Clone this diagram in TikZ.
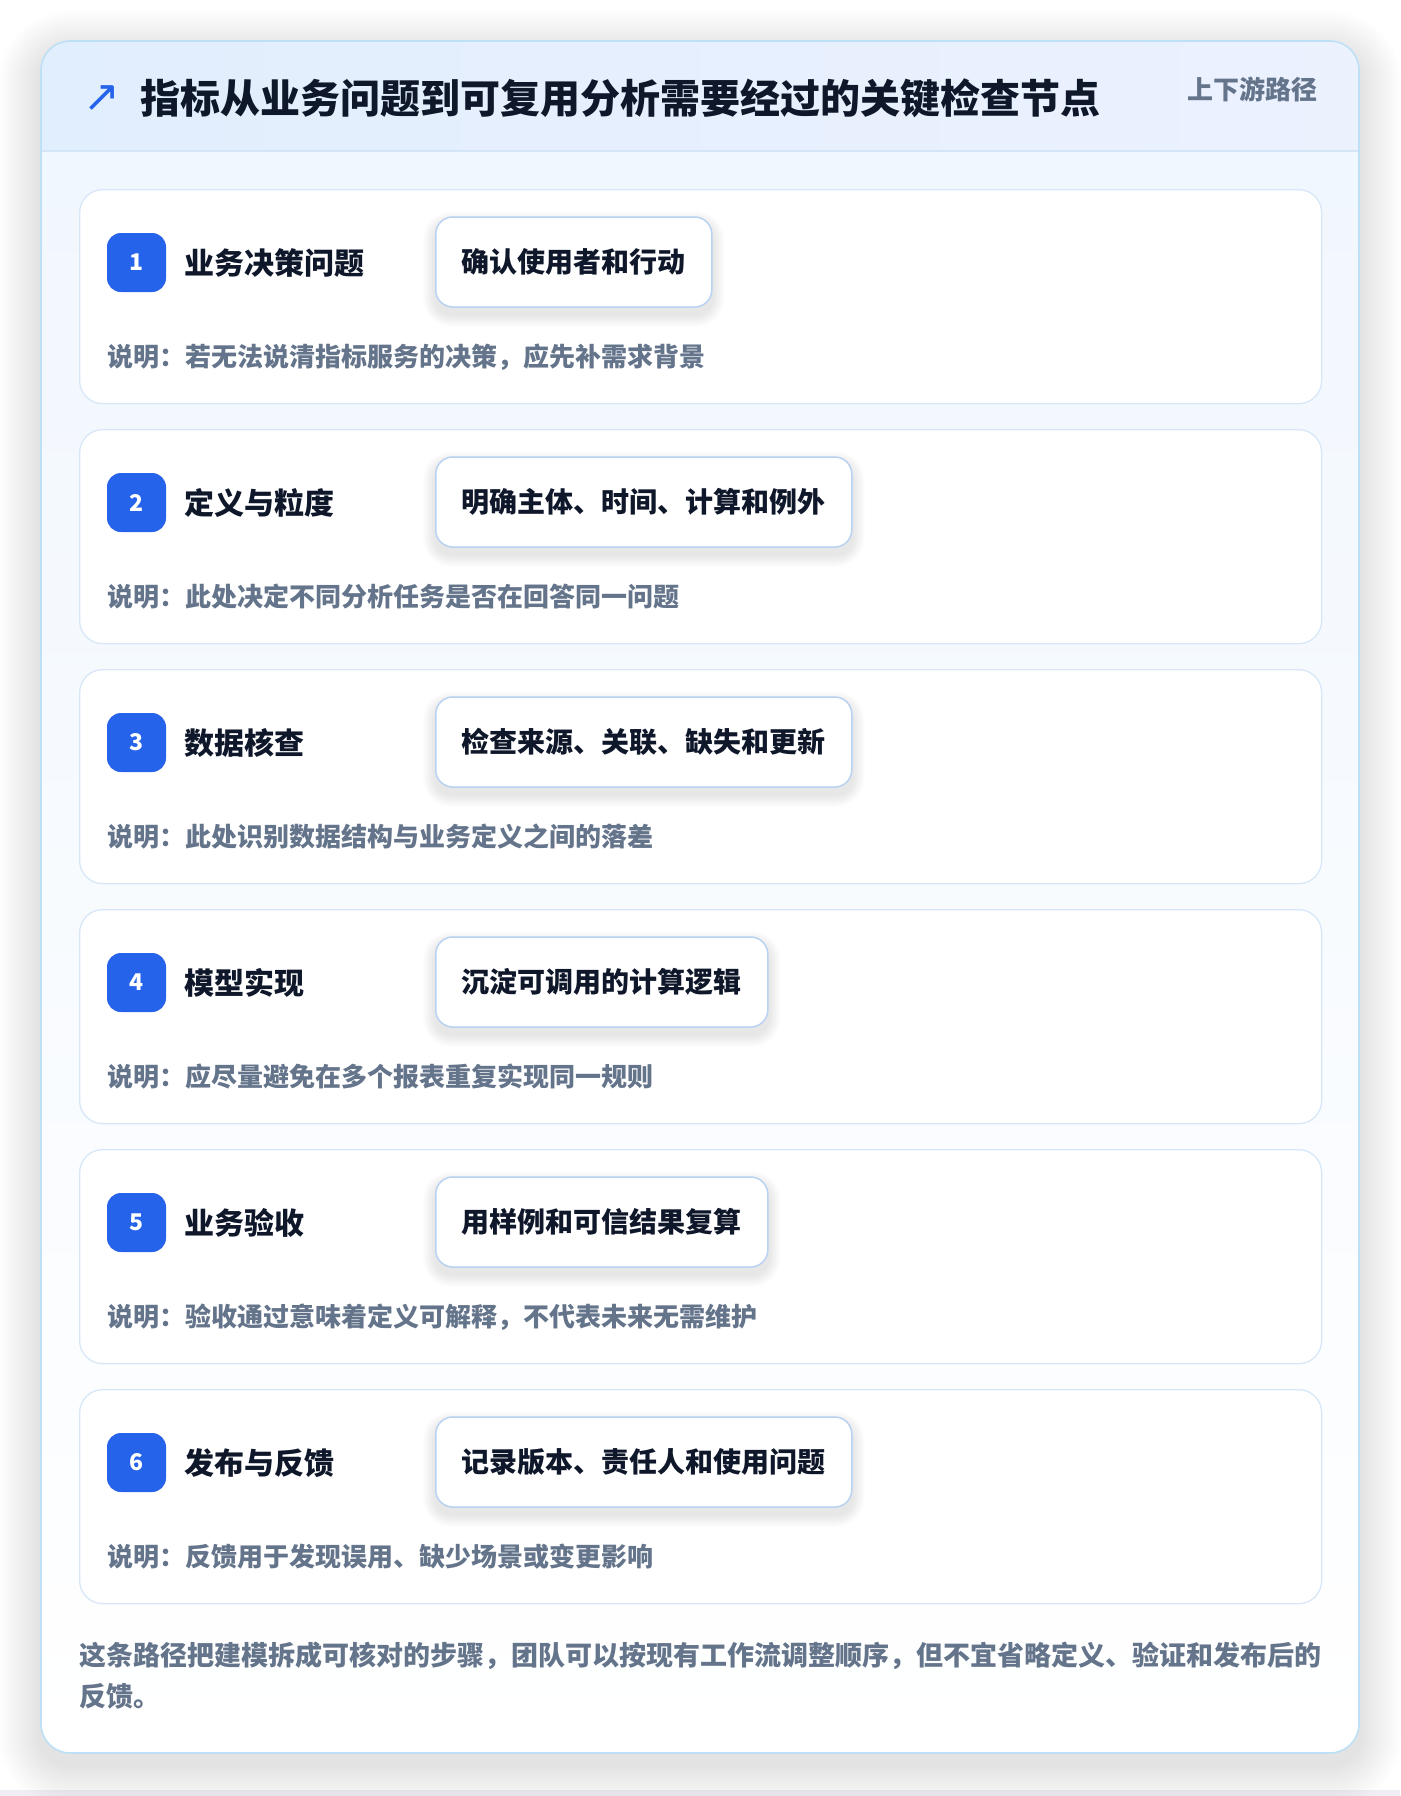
\documentclass[tikz,border=0pt]{standalone}
\usepackage{fontspec}
\setmainfont{Noto Sans CJK SC}
\newfontfamily\symfont{DejaVu Sans}
\definecolor{hdrL}{HTML}{E1EEFD}
\definecolor{hdrR}{HTML}{ECF1FE}
\definecolor{bodyT}{HTML}{F1F7FE}
\definecolor{outerborder}{HTML}{BEE0F6}
\definecolor{hdrline}{HTML}{D4E5F7}
\definecolor{cardborder}{HTML}{D8E7F8}
\definecolor{pillborder}{HTML}{B9D2F1}
\definecolor{badgeblue}{HTML}{2563EB}
\definecolor{ink}{HTML}{0F172A}
\definecolor{muted}{HTML}{64748B}
\definecolor{strip}{HTML}{EFEFF3}
\definecolor{shadowc}{HTML}{1E293B}
\newcommand\myfs[1]{\fontsize{#1}{#1}\selectfont}
\tikzset{
  stepcard/.style={draw=cardborder, line width=1.3pt, fill=white, rounded corners=23pt,
    minimum width=1242pt, minimum height=214pt, anchor=north west, inner sep=0pt},
  badge/.style={fill=badgeblue, rounded corners=14pt, minimum width=59pt, minimum height=59pt,
    inner sep=0pt, text=white, font=\bfseries\myfs{23}},
  steptitle/.style={anchor=west, inner sep=0pt, text=ink, font=\bfseries\myfs{30}},
  pill/.style={anchor=west, draw=pillborder, line width=1.5pt, fill=white, rounded corners=17pt,
    minimum height=90pt, inner xsep=26pt, inner ysep=0pt, text=ink, font=\bfseries\myfs{28}},
  desc/.style={anchor=west, inner sep=0pt, text=muted, font=\bfseries\myfs{26}},
  foot/.style={anchor=west, inner sep=0pt, text=muted, font=\bfseries\myfs{27}},
}
% soft layered shadow behind a node
\newcommand\softshadow[1]{%
  \foreach \k in {1,...,8}{%
    \fill[shadowc, opacity=0.010, rounded corners={17pt+\k*1.5pt}]
      ([xshift={-\k*1.5pt}, yshift={\k*1.5pt-7pt}]#1.north west) rectangle
      ([xshift={\k*1.5pt}, yshift={-\k*1.5pt-7pt}]#1.south east);
  }%
}
\newcommand\steprow[5]{%
  \node[stepcard] (card#1) at (79,#2) {};
  \node[badge] (badge#1) at (136.5,#2+73.5) {#1};
  \node[steptitle] (title#1) at (184,#2+74) {#3};
  \node[pill, opacity=0, text opacity=0] (pill#1) at (435,#2+73) {#4};
  \softshadow{pill#1}
  \node[pill] (pillb#1) at (pill#1.west) {#4};
  \node[desc] (desc#1) at (107,#2+168) {#5};
}
\begin{document}
\begin{tikzpicture}[x=1pt,y=-1pt]
\useasboundingbox (0,0) rectangle (1400,1796);
\fill[white] (0,0) rectangle (1400,1796);
\fill[strip] (0,1790) rectangle (1400,1796);
% outer card shadow (layered)
\foreach \k in {1,...,14}{
  \fill[shadowc, opacity=0.0065, rounded corners={29pt+\k*3pt}]
    ({41-\k*3}, {41-\k*3+12}) rectangle ({1359+\k*3}, {1753+\k*3+12});
}
% outer card
\path[fill=white, rounded corners=29pt] (41,41) rectangle (1359,1753);
\begin{scope}
  \clip[rounded corners=29pt] (41,41) rectangle (1359,1753);
  \shade[left color=hdrL, right color=hdrR] (41,41) rectangle (1359,151);
  \shade[top color=bodyT, bottom color=white] (41,151) rectangle (1359,1753);
  \draw[hdrline, line width=1.5pt] (41,151) -- (1359,151);
\end{scope}
\draw[outerborder, line width=1.6pt, rounded corners=29pt] (41,41) rectangle (1359,1753);
% header
\node[inner sep=0pt, text=badgeblue, font=\symfont\myfs{44}] (icon) at (102,99) {↗};
\node[anchor=west, inner sep=0pt, text=ink, font=\bfseries\myfs{40}] (maintitle) at (140,98) {指标从业务问题到可复用分析需要经过的关键检查节点};
\node[anchor=east, inner sep=0pt, text=muted, font=\bfseries\myfs{26}] (tag) at (1318,89) {上下游路径};
% steps
\steprow{1}{189}{业务决策问题}{确认使用者和行动}{说明：若无法说清指标服务的决策，应先补需求背景}
\steprow{2}{429}{定义与粒度}{明确主体、时间、计算和例外}{说明：此处决定不同分析任务是否在回答同一问题}
\steprow{3}{669}{数据核查}{检查来源、关联、缺失和更新}{说明：此处识别数据结构与业务定义之间的落差}
\steprow{4}{909}{模型实现}{沉淀可调用的计算逻辑}{说明：应尽量避免在多个报表重复实现同一规则}
\steprow{5}{1149}{业务验收}{用样例和可信结果复算}{说明：验收通过意味着定义可解释，不代表未来无需维护}
\steprow{6}{1389}{发布与反馈}{记录版本、责任人和使用问题}{说明：反馈用于发现误用、缺少场景或变更影响}
% footer
\node[foot] (foot1) at (79,1656) {这条路径把建模拆成可核对的步骤，团队可以按现有工作流调整顺序，但不宜省略定义、验证和发布后的};
\node[foot] (foot2) at (79,1696) {反馈。};
\end{tikzpicture}
\end{document}
